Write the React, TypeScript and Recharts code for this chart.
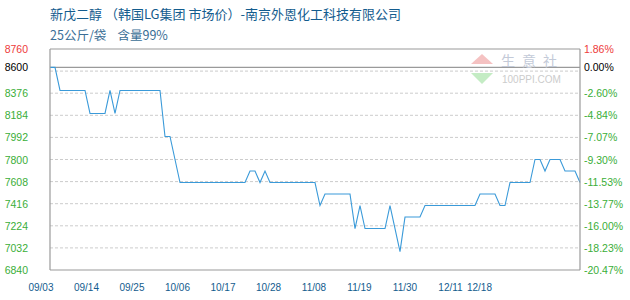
import React from 'react';
import {
  LineChart, Line, XAxis, YAxis, CartesianGrid, ReferenceLine
} from 'recharts';

// 价格序列（元/吨），09/03 起每天一个点，共 107 天
const prices = [
  8600, 8600, 8400, 8400, 8400, 8400, 8400, 8400, 8200, 8200,
  8200, 8200, 8400, 8200, 8400, 8400, 8400, 8400, 8400, 8400,
  8400, 8400, 8400, 8000, 8000, 7800, 7600, 7600, 7600, 7600,
  7600, 7600, 7600, 7600, 7600, 7600, 7600, 7600, 7600, 7600,
  7700, 7700, 7600, 7700, 7600, 7600, 7600, 7600, 7600, 7600,
  7600, 7600, 7600, 7600, 7400, 7500, 7500, 7500, 7500, 7500,
  7500, 7200, 7400, 7200, 7200, 7200, 7200, 7200, 7400, 7200,
  7000, 7300, 7300, 7300, 7300, 7400, 7400, 7400, 7400, 7400,
  7400, 7400, 7400, 7400, 7400, 7400, 7500, 7500, 7500, 7500,
  7400, 7400, 7600, 7600, 7600, 7600, 7600, 7800, 7800, 7700,
  7800, 7800, 7800, 7700, 7700, 7700, 7600,
];

// 横轴刻度（距 09/03 的天数）与标签
const tickDays = [0, 11, 22, 33, 44, 55, 66, 77, 88, 99, 106];
const tickLabels = ['09/03', '09/14', '09/25', '10/06', '10/17', '10/28', '11/08', '11/19', '11/30', '12/11', '12/18'];
const gridDays = [11, 22, 33, 44, 55, 66, 77, 88, 99];

// 纵轴
const basePrice = 8600;
const priceMin = 6840;
const priceMax = 8760;
const priceTicks = [6840, 7032, 7224, 7416, 7608, 7800, 7992, 8184, 8376, 8600, 8760];
const gridPrices = [7032, 7224, 7416, 7608, 7800, 7992, 8184, 8376, 8568];

const title = '新戊二醇 （韩国LG集团 市场价）-南京外恩化工科技有限公司';
const subtitle = '25公斤/袋\u00a0\u00a0\u00a0\u00a0含量99%';

const FONT = '"Liberation Sans", Arial, sans-serif';
const CJK = '"Noto Sans CJK SC", sans-serif';
const GREEN = '#3aae38';
const RED = '#ee3a3a';
const BLUE_TEXT = '#135c8e';
const FRAME = '#9a9a9a';

const chartData = prices.map((price, day) => ({ day, price }));

const pct = (v: number) => `${((v / basePrice - 1) * 100).toFixed(2)}%`;

const tickColor = (v: number) => (v === priceMax ? RED : v === basePrice ? '#000' : GREEN);

const PriceTick = (props: any) => {
  const { x, y, payload } = props;
  return (
    <text x={x} y={y} dy={4} textAnchor="end" fill={tickColor(payload.value)} fontSize={10.5} fontFamily={FONT}>
      {payload.value}
    </text>
  );
};

const PctTick = (props: any) => {
  const { x, y, payload } = props;
  return (
    <text x={x} y={y} dy={4} textAnchor="start" fill={tickColor(payload.value)} fontSize={10.5} fontFamily={FONT}>
      {pct(payload.value)}
    </text>
  );
};

const DateTick = (props: any) => {
  const { x, y, payload } = props;
  const i = tickDays.indexOf(payload.value);
  return (
    <text x={x} y={y} dy={21} textAnchor="middle" fill={BLUE_TEXT} fontSize={10} fontFamily={FONT}>
      {tickLabels[i]}
    </text>
  );
};

const Watermark = () => (
  <div style={{ position: 'absolute', left: 470, top: 54, width: 100, height: 32, pointerEvents: 'none' }}>
    <div style={{
      position: 'absolute', left: 1, top: 0, width: 0, height: 0,
      borderLeft: '11px solid transparent', borderRight: '11px solid transparent',
      borderBottom: '10px solid #f5c2c2'
    }} />
    <div style={{
      position: 'absolute', left: 1, top: 19, width: 0, height: 0,
      borderLeft: '11px solid transparent', borderRight: '11px solid transparent',
      borderTop: '11px solid #c4ecc4'
    }} />
    <div style={{
      position: 'absolute', left: 31, top: -2, fontFamily: CJK, fontSize: 14,
      letterSpacing: 7, color: '#c3cad8', lineHeight: '17px'
    }}>生意社</div>
    <div style={{
      position: 'absolute', left: 32, top: 20, fontFamily: FONT, fontSize: 10,
      color: '#cccccc', lineHeight: '12px'
    }}>100PPI.COM</div>
  </div>
);

export default function App() {
  return (
    <div style={{ position: 'absolute', left: 0, top: 0, width: 630, height: 300, background: '#fff' }}>
      <div style={{
        position: 'absolute', left: 50, top: 5, fontFamily: CJK, fontSize: 13,
        color: BLUE_TEXT, whiteSpace: 'pre', lineHeight: '18px'
      }}>{title}</div>
      <div style={{
        position: 'absolute', left: 50, top: 26, fontFamily: CJK, fontSize: 12.5,
        color: '#3a6e96', whiteSpace: 'pre', lineHeight: '18px'
      }}>{subtitle}</div>

      <LineChart width={630} height={300} data={chartData} margin={{ top: 49, right: 0, bottom: 0, left: 0 }}>
        <CartesianGrid
          xAxisId="day"
          yAxisId="price"
          stroke="#cccccc"
          strokeDasharray="3 2"
          horizontalValues={gridPrices}
          verticalValues={gridDays}
        />
        {/* 日期标签用单独的刻度轴 */}
        <XAxis
          xAxisId="label"
          dataKey="day"
          type="number"
          domain={[2.18, 130.3]}
          allowDataOverflow
          ticks={tickDays}
          interval={0}
          height={30}
          tickSize={0}
          tickMargin={0}
          tickLine={false}
          axisLine={{ stroke: FRAME, strokeWidth: 1.2 }}
          tick={<DateTick />}
        />
        <XAxis
          xAxisId="day"
          dataKey="day"
          type="number"
          domain={[0, 106]}
          ticks={tickDays}
          height={0}
          tick={false}
          tickLine={false}
          axisLine={false}
        />
        <YAxis
          yAxisId="price"
          orientation="left"
          width={50}
          domain={[priceMin, priceMax]}
          ticks={priceTicks}
          interval={0}
          tickSize={0}
          tickMargin={22}
          tickLine={false}
          axisLine={{ stroke: FRAME, strokeWidth: 1.2 }}
          tick={<PriceTick />}
        />
        <YAxis
          yAxisId="pct"
          orientation="right"
          width={50}
          domain={[priceMin, priceMax]}
          ticks={priceTicks}
          interval={0}
          tickSize={0}
          tickMargin={4}
          tickLine={false}
          axisLine={{ stroke: FRAME, strokeWidth: 1.2 }}
          tick={<PctTick />}
        />
        <ReferenceLine xAxisId="day" yAxisId="price" y={priceMax} stroke={FRAME} strokeWidth={1.2} />
        <ReferenceLine xAxisId="day" yAxisId="price" y={basePrice} stroke={FRAME} strokeWidth={1.2} />
        {/* 不可见的系列，只为让两条副轴拿到数据 */}
        <Line
          xAxisId="label"
          yAxisId="pct"
          type="linear"
          dataKey="price"
          stroke="none"
          dot={false}
          activeDot={false}
          legendType="none"
          isAnimationActive={false}
        />
        <Line
          xAxisId="day"
          yAxisId="price"
          type="linear"
          dataKey="price"
          stroke="#3a9ad9"
          strokeWidth={1.1}
          dot={false}
          activeDot={false}
          isAnimationActive={false}
        />
      </LineChart>
      <Watermark />
    </div>
  );
}
